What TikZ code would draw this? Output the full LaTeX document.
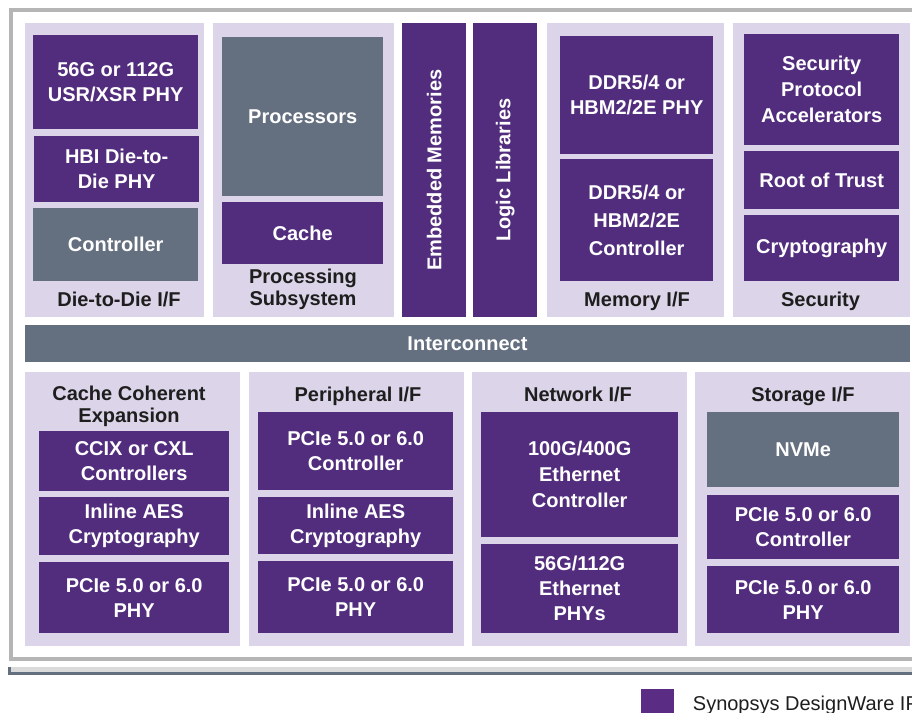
\documentclass[tikz,border=0pt]{standalone}
\usepackage{fontspec}
\setmainfont{Liberation Sans}
\definecolor{dp}{HTML}{522D7D}
\definecolor{lp}{HTML}{DCD4E8}
\definecolor{slate}{HTML}{646F80}
\definecolor{framegray}{HTML}{B4B5B4}
\definecolor{basegray}{HTML}{DADADA}
\definecolor{legpurple}{HTML}{5A2C84}
\definecolor{ink}{HTML}{1E1E1E}
\tikzset{
  panel/.style={fill=lp, draw=none, inner sep=0pt, anchor=north west},
  pbox/.style={fill=dp, draw=none, text=white, inner sep=0pt, anchor=north west, align=center,
    font=\bfseries\fontsize{20}{25}\selectfont},
  gbox/.style={pbox, fill=slate},
  lbl/.style={text=ink, inner sep=0pt, align=center, font=\bfseries\fontsize{20}{22}\selectfont},
}
\begin{document}
\begin{tikzpicture}[x=1pt,y=-1pt]
\useasboundingbox (0,0) rectangle (912,712);
\clip (0,0) rectangle (912,712);
% frame
\draw[framegray, line width=4pt] (940,10) -- (11,10) -- (11,659) -- (940,659);
% base
\fill[basegray] (8,667.3) rectangle (940,674.7);
\fill[slate] (8,671.7) rectangle (940,674.7);
\fill[slate] (8,667.3) rectangle (11,674.7);

% ---------- top row ----------
\node[panel, minimum width=179pt, minimum height=294pt] (p1) at (25,23) {};
\node[pbox, minimum width=165pt, minimum height=94pt] (usr) at (33,35) {56G or 112G\\USR/XSR PHY};
\node[pbox, minimum width=165pt, minimum height=66pt] (hbi) at (34,136) {HBI Die-to-\\Die PHY};
\node[gbox, minimum width=165pt, minimum height=73pt] (d2dc) at (33,208) {Controller};
\node[lbl, anchor=base] (l1) at (119,306) {Die-to-Die I/F};

\node[panel, minimum width=181pt, minimum height=294pt] (p2) at (213,23) {};
\node[gbox, minimum width=161pt, minimum height=159pt] (proc) at (222,37) {Processors};
\node[pbox, minimum width=161pt, minimum height=62pt] (cache) at (222,202) {Cache};
\node[lbl] (l2) at (303,289) {Processing\\Subsystem};

\node[pbox, minimum width=64pt, minimum height=294pt] (emb) at (402,23) {};
\node[text=white, rotate=90, inner sep=0pt, font=\bfseries\fontsize{20}{25}\selectfont] (embt) at (emb.center) {Embedded Memories};
\node[pbox, minimum width=64pt, minimum height=294pt] (logic) at (473,23) {};
\node[text=white, rotate=90, inner sep=0pt, font=\bfseries\fontsize{20}{25}\selectfont] (logict) at (logic.center) {Logic Libraries};

\node[panel, minimum width=177pt, minimum height=294pt] (p3) at (547,23) {};
\node[pbox, minimum width=153pt, minimum height=118pt] (ddrphy) at (560,36) {DDR5/4 or\\HBM2/2E PHY};
\node[pbox, minimum width=153pt, minimum height=122pt, font=\bfseries\fontsize{20}{28}\selectfont] (ddrc) at (560,159) {DDR5/4 or\\HBM2/2E\\Controller};
\node[lbl, anchor=base] (l3) at (637,306) {Memory I/F};

\node[panel, minimum width=177pt, minimum height=294pt] (p4) at (733,23) {};
\node[pbox, minimum width=155pt, minimum height=111pt, font=\bfseries\fontsize{20}{26}\selectfont] (spa) at (744,34) {Security\\Protocol\\Accelerators};
\node[pbox, minimum width=155pt, minimum height=58pt] (rot) at (744,151) {Root of Trust};
\node[pbox, minimum width=155pt, minimum height=66pt] (crypto) at (744,215) {Cryptography};
\node[lbl, anchor=base] (l4) at (820.5,306) {Security};

% ---------- interconnect ----------
\node[gbox, minimum width=885pt, minimum height=37pt] (ic) at (25,325) {};
\node[text=white, inner sep=0pt, anchor=base, font=\bfseries\fontsize{20}{25}\selectfont] (ict) at (467.5,350) {Interconnect};

% ---------- bottom row ----------
\node[panel, minimum width=215pt, minimum height=274pt] (b1) at (25,372) {};
\node[lbl] (bl1) at (129,406) {Cache Coherent\\Expansion};
\node[pbox, minimum width=190pt, minimum height=60pt] (ccix) at (39,431) {CCIX or CXL\\Controllers};
\node[pbox, minimum width=190pt, minimum height=58pt] (aes1) at (39,497) {Inline AES\\Cryptography};
\node[pbox, minimum width=190pt, minimum height=71pt] (phy1) at (39,562) {PCIe 5.0 or 6.0\\PHY};

\node[panel, minimum width=215pt, minimum height=274pt] (b2) at (249,372) {};
\node[lbl, anchor=base] (bl2) at (358,401.7) {Peripheral I/F};
\node[pbox, minimum width=195pt, minimum height=78pt] (pctl2) at (258,412) {PCIe 5.0 or 6.0\\Controller};
\node[pbox, minimum width=195pt, minimum height=57pt] (aes2) at (258,497) {Inline AES\\Cryptography};
\node[pbox, minimum width=195pt, minimum height=72pt] (phy2) at (258,561) {PCIe 5.0 or 6.0\\PHY};

\node[panel, minimum width=215pt, minimum height=274pt] (b3) at (472,372) {};
\node[lbl, anchor=base] (bl3) at (578,401.7) {Network I/F};
\node[pbox, minimum width=197pt, minimum height=125pt, font=\bfseries\fontsize{20}{26}\selectfont] (eth) at (481,412) {100G/400G\\Ethernet\\Controller};
\node[pbox, minimum width=197pt, minimum height=89pt] (ethphy) at (481,544) {56G/112G\\Ethernet\\PHYs};

\node[panel, minimum width=215pt, minimum height=274pt] (b4) at (695,372) {};
\node[lbl, anchor=base] (bl4) at (803,401.7) {Storage I/F};
\node[gbox, minimum width=192pt, minimum height=75pt] (nvme) at (707,412) {NVMe};
\node[pbox, minimum width=192pt, minimum height=64pt] (pctl4) at (707,495) {PCIe 5.0 or 6.0\\Controller};
\node[pbox, minimum width=192pt, minimum height=67pt] (phy4) at (707,566) {PCIe 5.0 or 6.0\\PHY};

% ---------- legend ----------
\node[fill=legpurple, inner sep=0pt, minimum width=33pt, minimum height=30pt, anchor=north west] (legsq) at (641,689) {};
\node[text=ink, inner sep=0pt, anchor=base west, font=\fontsize{20}{24}\selectfont] (legt) at (692.7,710) {Synopsys DesignWare IP};
\end{tikzpicture}
\end{document}
